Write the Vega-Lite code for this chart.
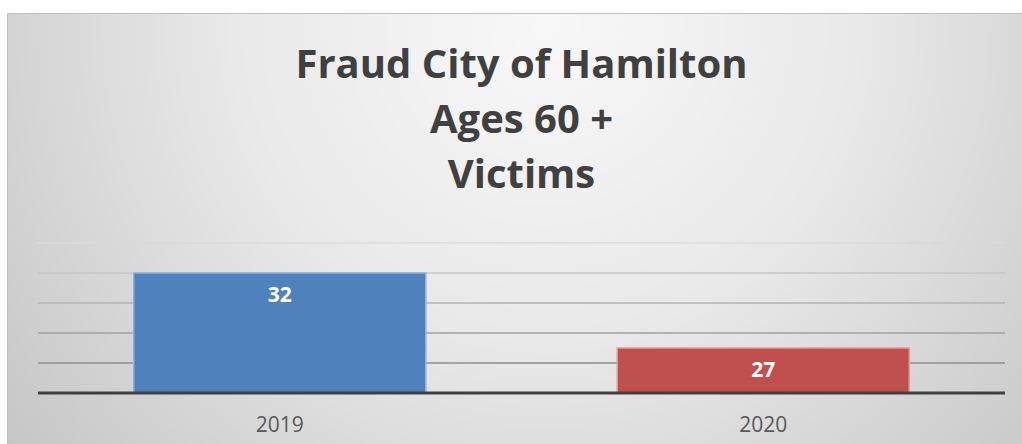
{
  "$schema": "https://vega.github.io/schema/vega-lite/v6.json",
  "width": 1015,
  "height": 431,
  "autosize": {"type": "none"},
  "padding": {"left": 7, "top": 13, "right": 0, "bottom": 0},
  "background": "white",
  "config": {
    "view": {
      "fill": {
        "gradient": "radial",
        "x1": 0.53, "y1": 0.3, "r1": 0,
        "x2": 0.53, "y2": 0.3, "r2": 0.68,
        "stops": [
          {"offset": 0, "color": "#f8f8f8"},
          {"offset": 0.45, "color": "#e9e9e9"},
          {"offset": 1, "color": "#c5c5c5"}
        ]
      },
      "stroke": "#bfbfbf",
      "strokeWidth": 1
    },
    "font": "Open Sans"
  },
  "title": {
    "text": ["Fraud City of Hamilton", "Ages 60 +", "Victims"],
    "font": "Open Sans",
    "fontSize": 40,
    "fontWeight": "bold",
    "color": "#404040",
    "anchor": "middle",
    "frame": "group",
    "offset": -183,
    "dx": 7,
    "lineHeight": 55
  },
  "datasets": {
    "bars": [
      {"year": "2019", "victims": 32},
      {"year": "2020", "victims": 27}
    ],
    "grid": [{"v": 26}, {"v": 28}, {"v": 30}, {"v": 32}, {"v": 34}],
    "base": [{"v": 24}]
  },
  "layer": [
    {
      "data": {"name": "grid"},
      "mark": {"type": "rule", "strokeWidth": 1.5},
      "encoding": {
        "y": {"field": "v", "type": "quantitative", "scale": {"domain": [20.6, 49.333], "nice": false, "zero": false}, "axis": null},
        "x": {"datum": "2019", "type": "nominal", "bandPosition": 0},
        "x2": {"datum": "2020", "bandPosition": 1},
        "color": {"field": "v", "type": "quantitative", "scale": {"domain": [26, 34], "range": ["#8e8e8e", "#dadada"]}, "legend": null}
      }
    },
    {
      "data": {"name": "bars"},
      "mark": {"type": "bar", "width": {"band": 0.604}, "strokeWidth": 1.5},
      "encoding": {
        "x": {
          "field": "year", "type": "nominal",
          "scale": {"type": "band", "domain": ["2019", "2020"], "paddingInner": 0, "paddingOuter": 0.0496, "align": 0.646},
          "axis": {"offset": -51, "domain": false, "ticks": false, "grid": false, "labelAngle": 0, "labelAlign": "center", "labelBaseline": "top", "labelPadding": 21, "labelFontSize": 21, "labelFont": "Open Sans", "labelColor": "#595959", "title": null}
        },
        "y": {"field": "victims", "type": "quantitative", "scale": {"domain": [20.6, 49.333], "nice": false, "zero": false}, "axis": null},
        "y2": {"datum": 24},
        "color": {"field": "year", "type": "nominal", "scale": {"domain": ["2019", "2020"], "range": ["#4f81bd", "#c0504d"]}, "legend": null},
        "stroke": {"field": "year", "type": "nominal", "scale": {"domain": ["2019", "2020"], "range": ["#8fb2dd", "#e39b98"]}, "legend": null}
      }
    },
    {
      "data": {"name": "bars"},
      "mark": {"type": "text", "baseline": "middle", "dy": 23, "fontSize": 21, "fontWeight": "bold", "font": "Open Sans", "color": "white"},
      "encoding": {
        "x": {"field": "year", "type": "nominal"},
        "y": {"field": "victims", "type": "quantitative"},
        "text": {"field": "victims", "type": "quantitative"}
      }
    },
    {
      "data": {"name": "base"},
      "mark": {"type": "rule", "strokeWidth": 3, "color": "#404040"},
      "encoding": {
        "y": {"field": "v", "type": "quantitative"},
        "x": {"datum": "2019", "type": "nominal", "bandPosition": 0},
        "x2": {"datum": "2020", "bandPosition": 1}
      }
    }
  ],
  "resolve": {"scale": {"color": "independent"}}
}
